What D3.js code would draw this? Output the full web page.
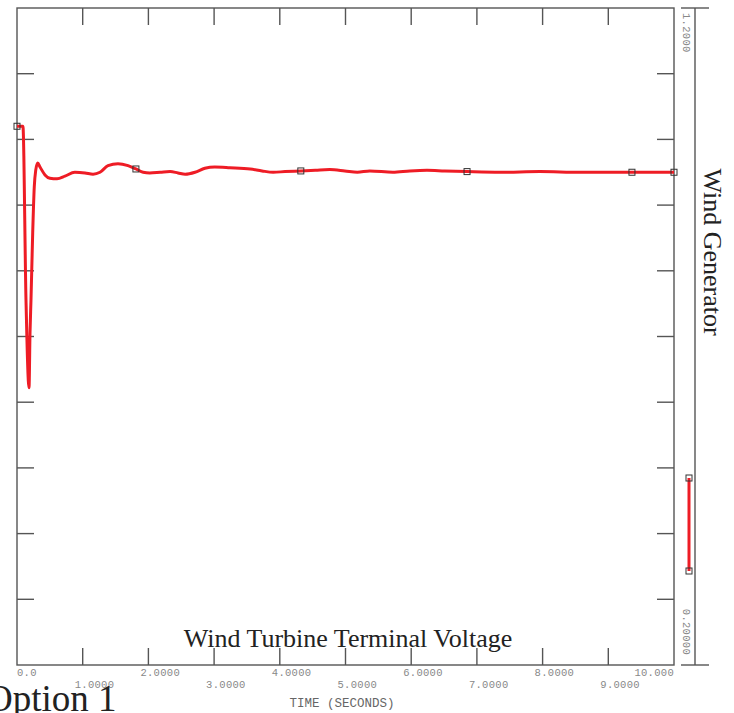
<!DOCTYPE html>
<html><head><meta charset="utf-8">
<script src="https://cdn.jsdelivr.net/npm/d3@7"></script>
<style>html,body{margin:0;padding:0;background:#fff;overflow:hidden}</style>
</head><body>
<script>
const timeS = [0, 0.09, 0.137, 0.183, 0.198, 0.213, 0.239, 0.263, 0.285, 0.315, 0.35, 0.426, 0.50, 0.61, 0.73, 0.88, 1.035, 1.157, 1.263, 1.385, 1.537, 1.69, 1.81, 1.92, 2.02, 2.18, 2.33, 2.45, 2.56, 2.71, 2.86, 3.01, 3.24, 3.55, 3.73, 3.90, 4.08, 4.32, 4.54, 4.76, 4.99, 5.18, 5.37, 5.72, 5.98, 6.24, 6.51, 6.85, 7.35, 7.96, 8.57, 9.36, 10.0];
const voltage = [1.020, 1.020, 0.755, 0.622, 0.705, 0.756, 0.858, 0.928, 0.953, 0.964, 0.958, 0.946, 0.941, 0.940, 0.944, 0.950, 0.949, 0.947, 0.950, 0.960, 0.963, 0.960, 0.955, 0.950, 0.949, 0.950, 0.951, 0.949, 0.947, 0.950, 0.956, 0.958, 0.957, 0.955, 0.952, 0.950, 0.951, 0.952, 0.953, 0.954, 0.952, 0.950, 0.952, 0.950, 0.952, 0.953, 0.952, 0.951, 0.950, 0.951, 0.950, 0.950, 0.950];
const markerTimes = [0, 1.81, 4.32, 6.85, 9.36, 10.0];
const markerValues = [1.020, 0.955, 0.952, 0.951, 0.950, 0.950];
const xTicks = [0,1,2,3,4,5,6,7,8,9,10];
const xTickLabels = ["0.0","1.0000","2.0000","3.0000","4.0000","5.0000","6.0000","7.0000","8.0000","9.0000","10.000"];
const yTicks = [0.2,0.3,0.4,0.5,0.6,0.7,0.8,0.9,1.0,1.1,1.2];
const yMaxLabel = "1.2000", yMinLabel = "0.20000";
const chartTitle = "Wind Turbine Terminal Voltage";
const seriesName = "Wind Generator";
const xTitle = "TIME (SECONDS)";
const caption = "Option 1";

const W = 734, H = 713;
const L = 17, R = 674, T = 8, B = 665;
const svg = d3.select("body").append("svg").attr("width", W).attr("height", H);
const x = d3.scaleLinear().domain([0,10]).range([L,R]);
const y = d3.scaleLinear().domain([0.2,1.2]).range([B,T]);
const ax = "#555", tl = 17;

// frame
svg.append("rect").attr("x",L).attr("y",T).attr("width",R-L).attr("height",B-T)
  .attr("fill","none").attr("stroke",ax).attr("stroke-width",1.4);

// ticks
const g = svg.append("g").attr("stroke",ax).attr("stroke-width",1.4);
xTicks.slice(1,-1).forEach(t=>{
  g.append("line").attr("x1",x(t)).attr("x2",x(t)).attr("y1",T).attr("y2",T+tl);
  g.append("line").attr("x1",x(t)).attr("x2",x(t)).attr("y1",B).attr("y2",B-tl);
});
yTicks.slice(1,-1).forEach(v=>{
  g.append("line").attr("x1",L).attr("x2",L+tl).attr("y1",y(v)).attr("y2",y(v));
  g.append("line").attr("x1",R).attr("x2",R-tl).attr("y1",y(v)).attr("y2",y(v));
});

// x tick labels
const mono = "'Liberation Mono','DejaVu Sans Mono',monospace";
xTicks.forEach((t,i)=>{
  let tx = x(t)-8, anchor="start";
  if (i===0) tx = x(t);
  if (i===xTicks.length-1) { tx = x(t); anchor="end"; }
  svg.append("text").attr("x",tx).attr("y", i%2===0 ? 676 : 688)
    .attr("text-anchor",anchor).attr("font-family",mono).attr("font-size",10.5)
    .attr("fill","#888").attr("letter-spacing",0.3).text(xTickLabels[i]);
});
svg.append("text").attr("x",342).attr("y",707).attr("text-anchor","middle")
  .attr("font-family",mono).attr("font-size",12.5).attr("fill","#666").text(xTitle);

// right-side scale
const RX = 695;
g.append("line").attr("x1",RX).attr("x2",RX).attr("y1",T).attr("y2",B);
g.append("line").attr("x1",681).attr("x2",709).attr("y1",T).attr("y2",T);
g.append("line").attr("x1",681).attr("x2",709).attr("y1",B).attr("y2",B);
svg.append("text").attr("transform",`translate(683,${T+5}) rotate(90)`)
  .attr("font-family",mono).attr("font-size",10.5).attr("fill","#888")
  .attr("letter-spacing",0.3).text(yMaxLabel);
svg.append("text").attr("transform",`translate(683,${B-10}) rotate(90)`)
  .attr("text-anchor","end").attr("font-family",mono).attr("font-size",10.5).attr("fill","#888")
  .attr("letter-spacing",0.3).text(yMinLabel);
svg.append("text").attr("transform",`translate(704,252) rotate(90)`)
  .attr("text-anchor","middle").attr("font-family","'Liberation Serif','Times New Roman',serif")
  .attr("font-size",26).attr("fill","#222").text(seriesName);

// legend swatch
const red = "#ee1c25";
svg.append("line").attr("x1",689).attr("x2",689).attr("y1",478).attr("y2",571)
  .attr("stroke",red).attr("stroke-width",3);
[478,571].forEach(yy=>svg.append("rect").attr("x",689-3).attr("y",yy-3).attr("width",6).attr("height",6)
  .attr("fill","none").attr("stroke","#333").attr("stroke-width",1));

// data line
const data = timeS.map((t,i)=>[t,voltage[i]]);
const line = d3.line().x(d=>x(d[0])).y(d=>y(d[1])).curve(d3.curveMonotoneX);
svg.append("path").datum(data).attr("d",line).attr("fill","none")
  .attr("stroke",red).attr("stroke-width",3).attr("stroke-linejoin","round");
markerTimes.forEach((t,i)=>{
  svg.append("rect").attr("x",x(t)-3).attr("y",y(markerValues[i])-3).attr("width",6).attr("height",6)
    .attr("fill","none").attr("stroke","#333").attr("stroke-width",1);
});

// titles
svg.append("text").attr("x",348).attr("y",647).attr("text-anchor","middle")
  .attr("font-family","'Liberation Serif','Times New Roman',serif").attr("font-size",26)
  .attr("fill","#222").text(chartTitle);
svg.append("text").attr("x",-14).attr("y",711)
  .attr("font-family","'Liberation Serif','Times New Roman',serif").attr("font-size",37)
  .attr("fill","#222").text(caption);
</script>
</body></html>
